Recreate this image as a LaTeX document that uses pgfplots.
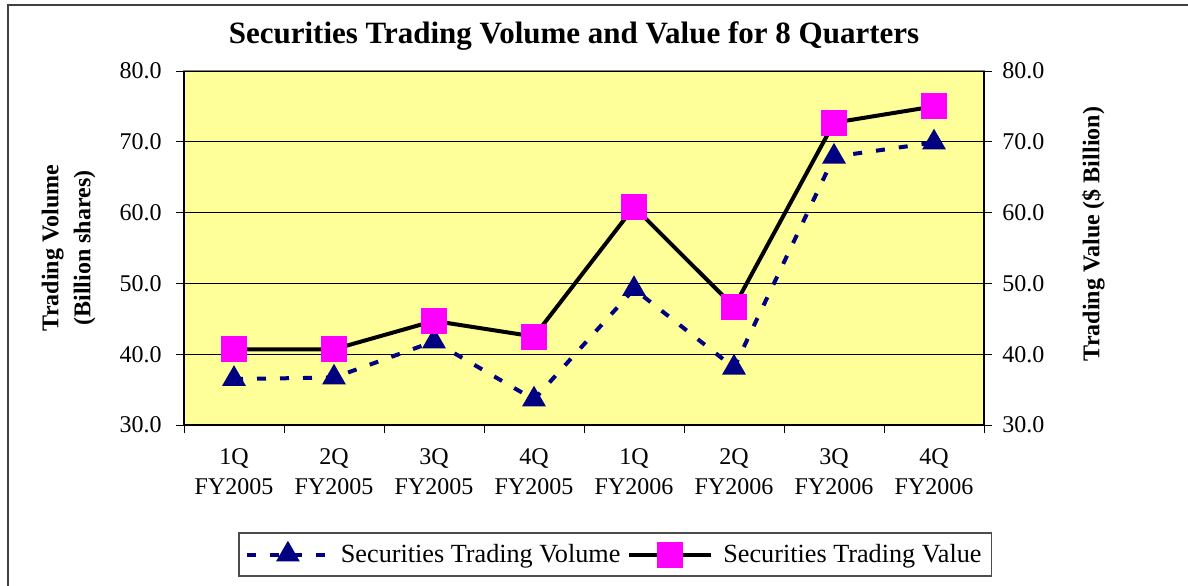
\documentclass[border=0pt]{standalone}
\usepackage{fontspec}
\setmainfont{Liberation Serif}
\usepackage{pgfplots}
\pgfplotsset{compat=1.18}

\definecolor{plotbg}{HTML}{FFFF99}
\definecolor{volblue}{HTML}{000080}
\definecolor{valpink}{HTML}{FF00FF}

% 1 px of the reference = 0.5pt
\pgfplotsset{
  common/.style={
    at={(92pt,80pt)}, anchor=south west,
    scale only axis, width=400pt, height=177pt,
    xmin=-0.5, xmax=7.5, ymin=30, ymax=80,
    ytick={30,40,...,80},
    tick align=outside, major tick length=4pt,
    tick style={black, line width=0.5pt},
    axis line style={-, black, line width=0.75pt},
    yticklabel={\pgfmathprintnumber[fixed,fixed zerofill,precision=1]{\tick}},
    /pgf/number format/assume math mode=true,
    tick label style={font=\fontsize{12}{14.8}\selectfont},
  },
  linelegend/.style={
    legend image code/.code={
      \draw[mark repeat=2,mark phase=2,##1] plot coordinates {(0pt,0pt) (20.5pt,0pt) (41pt,0pt)};}
  },
}

\begin{document}
\begin{tikzpicture}
\path[use as bounding box, fill=white] (0,0) rectangle (594pt,292.5pt);
\draw[line width=1pt, black!75] (4pt,-10pt) -- (4pt,290pt) -- (600pt,290pt);

% left axis: trading volume
\begin{axis}[
  common,
  axis background/.style={fill=plotbg, draw=gray, line width=0.75pt},
  axis x line*=bottom, axis y line*=left,
  xtick={-0.5,0.5,...,7.5},
  x tick label as interval,
  xticklabels={{1Q\\FY2005},{2Q\\FY2005},{3Q\\FY2005},{4Q\\FY2005},
                {1Q\\FY2006},{2Q\\FY2006},{3Q\\FY2006},{4Q\\FY2006}},
  xticklabel style={align=center, anchor=north, inner sep=0pt, yshift=-7.8pt},
  yticklabel style={anchor=east, inner sep=0pt, xshift=-7pt},
  ymajorgrids, grid style={black, line width=0.5pt},
  ylabel={Trading Volume\\(Billion shares)},
  ylabel style={at={(axis description cs:-0.1444,0.5)}, anchor=center, rotate=0,
    align=center, font=\bfseries\fontsize{12}{16}\selectfont},
]
\addplot[volblue, line width=2pt, dash pattern=on 4.5pt off 7pt,
  mark=triangle*, mark size=4.9pt, mark options={solid, fill=volblue}]
  coordinates {(0,36.5) (1,36.7) (2,41.8) (3,33.6) (4,49.2) (5,38.1) (6,67.9) (7,69.9)};
\end{axis}

% right axis: trading value
\begin{axis}[
  common,
  axis x line=none, axis y line*=right,
  yticklabel style={anchor=west, inner sep=0pt, xshift=5pt},
  ylabel={Trading Value (\$ Billion)},
  ylabel style={at={(axis description cs:1.1368,0.5395)}, anchor=center, rotate=0,
    font=\bfseries\fontsize{12}{14}\selectfont},
  title={Securities Trading Volume and Value for 8 Quarters},
  title style={at={(axis description cs:0.4875,1.0452)}, anchor=base,
    font=\bfseries\fontsize{15.5}{18}\selectfont},
  linelegend,
  legend columns=2,
  legend style={at={(0.539,-0.366)}, anchor=center, draw=black!70, line width=0.75pt,
    fill=white, font=\fontsize{13.1}{15.5}\selectfont,
    inner xsep=3pt, inner ysep=3.5pt,
    /tikz/every even column/.append style={column sep=1.5pt},
    /tikz/every odd column/.append style={column sep=3pt}},
]
\addlegendimage{volblue, line width=2pt, dash pattern=on 4.5pt off 7pt,
  mark=triangle*, mark size=4.9pt, mark options={solid, fill=volblue}}
\addlegendentry{Securities Trading Volume}
\addplot[black, line width=2pt,
  mark=square*, mark size=5.5pt, mark options={draw=valpink, fill=valpink}]
  coordinates {(0,40.7) (1,40.7) (2,44.7) (3,42.5) (4,60.8) (5,46.7) (6,72.7) (7,75.0)};
\addlegendentry{Securities Trading Value}
\end{axis}
\end{tikzpicture}
\end{document}
